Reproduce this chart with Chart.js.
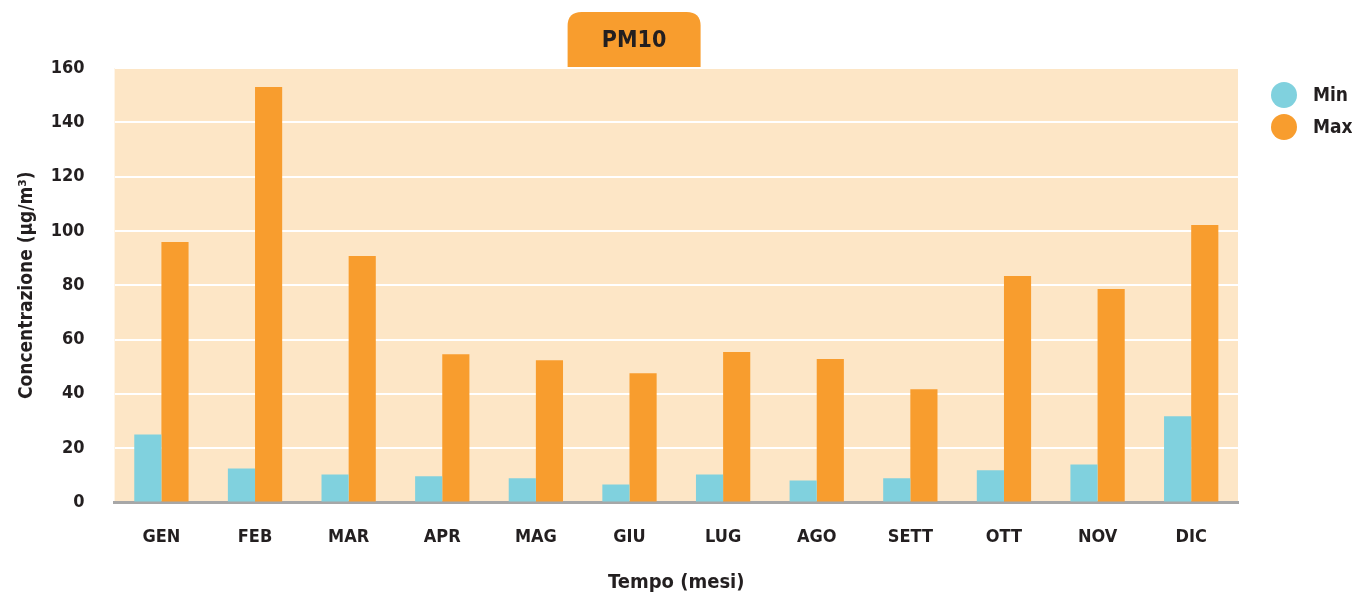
<!DOCTYPE html>
<html>
<head>
<meta charset="utf-8">
<script src="https://cdn.jsdelivr.net/npm/chart.js@4.4.1/dist/chart.umd.min.js"></script>
<style>
  html, body { margin: 0; padding: 0; background: #fff; }
  #wrap { width: 1352px; height: 599px; }
</style>
</head>
<body>
<div id="wrap"><canvas id="pmChart" width="1352" height="599"></canvas></div>
<script>
const months = ['GEN', 'FEB', 'MAR', 'APR', 'MAG', 'GIU', 'LUG', 'AGO', 'SETT', 'OTT', 'NOV', 'DIC'];
const minValues = [25, 12.5, 10.3, 9.6, 8.9, 6.6, 10.3, 8.1, 8.9, 11.8, 14, 31.7];
const maxValues = [95.9, 153, 90.8, 54.6, 52.4, 47.6, 55.4, 52.8, 41.7, 83.4, 78.6, 102.2];
const yTicks = [0, 20, 40, 60, 80, 100, 120, 140, 160];

const FONT = "'Liberation Sans Narrow', 'DejaVu Sans Condensed', 'Roboto Condensed', sans-serif";
const DARK = '#231f20';

// peach background behind the plot + the orange title tab
const backdrop = {
  id: 'backdrop',
  beforeDraw(chart) {
    const { ctx, chartArea: a } = chart;
    ctx.save();
    ctx.fillStyle = '#fde6c6';
    ctx.fillRect(a.left, a.top, a.right - a.left, a.bottom - a.top);

    // title tab
    const x = a.left + 453, w = 133, y = 12, h = a.top - y, r = 14;
    ctx.fillStyle = '#f89d2e';
    ctx.beginPath();
    ctx.moveTo(x, y + h);
    ctx.lineTo(x, y + r);
    ctx.quadraticCurveTo(x, y, x + r, y);
    ctx.lineTo(x + w - r, y);
    ctx.quadraticCurveTo(x + w, y, x + w, y + r);
    ctx.lineTo(x + w, y + h);
    ctx.closePath();
    ctx.fill();
    ctx.fillStyle = DARK;
    ctx.font = 'bold 23px ' + FONT;
    ctx.textAlign = 'center';
    ctx.textBaseline = 'middle';
    ctx.fillText('PM10', x + w / 2, y + h / 2 + 1);
    ctx.restore();
  }
};

// simple legend on the right, off the dataset colours
const sideLegend = {
  id: 'sideLegend',
  afterDraw(chart) {
    const { ctx, chartArea: a } = chart;
    ctx.save();
    ctx.font = 'bold 19px ' + FONT;
    ctx.textBaseline = 'middle';
    ctx.textAlign = 'left';
    chart.data.datasets.forEach((ds, i) => {
      const cy = a.top + 27 + i * 32;
      ctx.fillStyle = ds.backgroundColor;
      ctx.beginPath();
      ctx.arc(a.right + 46, cy, 13, 0, Math.PI * 2);
      ctx.fill();
      ctx.fillStyle = DARK;
      ctx.fillText(ds.label, a.right + 75, cy + 1);
    });
    ctx.restore();
  }
};

new Chart(document.getElementById('pmChart'), {
  type: 'bar',
  data: {
    labels: months,
    datasets: [
      { label: 'Min', data: minValues, backgroundColor: '#80d1de' },
      { label: 'Max', data: maxValues, backgroundColor: '#f89d2e' }
    ]
  },
  options: {
    responsive: false,
    animation: false,
    events: [],
    datasets: { bar: { barPercentage: 1, categoryPercentage: 0.58 } },
    layout: { padding: { top: 68, right: 114, left: 10, bottom: 2 } },
    plugins: {
      tooltip: { enabled: false },
      legend: { display: false }
    },
    scales: {
      x: {
        grid: { display: false, drawTicks: false },
        border: { display: true, color: '#a7a7a7', width: 3 },
        ticks: { color: DARK, padding: 24, font: { family: FONT, size: 18, weight: 'bold' } },
        title: {
          display: true,
          text: 'Tempo (mesi)',
          color: DARK,
          // tick padding is counted twice in the axis height, take it back here
          padding: { top: -1, bottom: 2 },
          font: { family: FONT, size: 20, weight: 'bold' }
        }
      },
      y: {
        min: 0,
        max: 160,
        afterBuildTicks(axis) { axis.ticks = yTicks.map(v => ({ value: v })); },
        grid: { color: '#ffffff', lineWidth: 2, drawTicks: false },
        border: { display: false },
        ticks: { color: DARK, padding: 30, font: { family: FONT, size: 18, weight: 'bold' } },
        title: {
          display: true,
          text: 'Concentrazione (µg/m³)',
          color: DARK,
          padding: { top: 6, bottom: -18 },
          font: { family: FONT, size: 19, weight: 'bold' }
        }
      }
    }
  },
  plugins: [backdrop, sideLegend]
});
</script>
</body>
</html>
